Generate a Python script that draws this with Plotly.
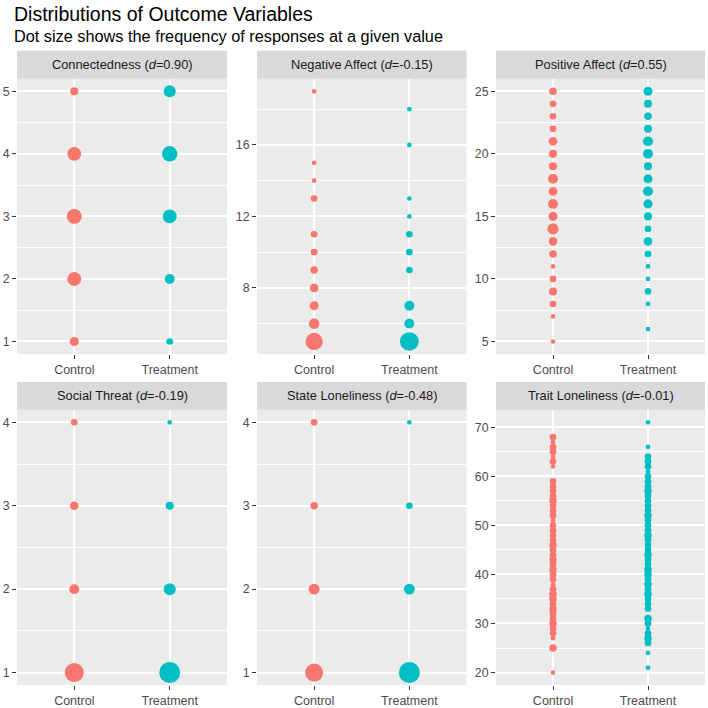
import plotly.graph_objects as go
import numpy as np

# ---------------- data ----------------
groups = ["Control", "Treatment"]

conn_vals_c = [1, 2, 3, 4, 5]
conn_n_c = [6, 23, 28, 23, 4]
conn_vals_t = [1, 2, 3, 4, 5]
conn_n_t = [2, 8, 23, 31, 15]

neg_vals_c = [5, 6, 7, 8, 9, 10, 11, 13, 14, 15, 19]
neg_n_c = [42, 10, 6, 5, 3, 2, 2, 2, 1, 1, 1]
neg_vals_t = [5, 6, 7, 9, 10, 11, 12, 13, 16, 18]
neg_n_t = [52, 8, 8, 2, 2, 2, 1, 1, 1, 1]

pos_vals_c = [5, 7, 8, 9, 10, 11, 12, 13, 14, 15, 16, 17, 18, 19, 20, 21, 22, 23, 24, 25]
pos_n_c = [1, 1, 2, 4, 2, 1, 3, 5, 12, 6, 8, 5, 8, 4, 4, 5, 2, 2, 2, 3]
pos_vals_t = [6, 8, 9, 10, 11, 12, 13, 14, 15, 16, 17, 18, 19, 20, 21, 22, 23, 24, 25]
pos_n_t = [1, 1, 2, 1, 1, 2, 5, 2, 4, 6, 8, 6, 4, 8, 8, 4, 3, 4, 6]

soc_vals_c = [1, 2, 3, 4]
soc_n_c = [54, 8, 5, 2]
soc_vals_t = [1, 2, 3, 4]
soc_n_t = [70, 15, 4, 1]

state_vals_c = [1, 2, 3, 4]
state_n_c = [47, 11, 3, 2]
state_vals_t = [1, 2, 3, 4]
state_n_t = [70, 11, 2, 1]

trait_vals_c = [20, 25, 27, 28, 29, 30, 31, 32, 33, 34, 35, 36, 37, 38, 39, 40, 41, 42, 43,
                44, 45, 46, 47, 48, 49, 50, 51, 52, 53, 54, 55, 56, 57, 58, 59,
                62, 63, 64, 65, 66, 67, 68]
trait_n_c = [1, 3, 1, 2, 2, 3, 2, 2, 3, 2, 3, 3, 2, 1, 2, 2, 3, 2, 3,
             2, 2, 3, 2, 2, 2, 2, 1, 2, 2, 2, 3, 2, 2, 2, 2,
             1, 2, 1, 2, 2, 1, 2]
trait_vals_t = [21, 24, 26, 27, 28, 29, 30, 31, 33, 34, 35, 36, 37, 38, 39, 40, 41, 42, 43,
                44, 45, 46, 47, 48, 49, 50, 51, 52, 53, 54, 55, 56, 57, 58, 59, 60,
                61, 62, 63, 64, 66, 71]
trait_n_t = [1, 1, 2, 3, 2, 1, 2, 3, 2, 2, 2, 3, 2, 3, 2, 3, 3, 2, 2,
             3, 2, 2, 2, 3, 2, 2, 2, 3, 2, 2, 2, 2, 3, 2, 2, 2,
             1, 2, 2, 2, 1, 1]

panel_names = ["Connectedness", "Negative Affect", "Positive Affect",
               "Social Threat", "State Loneliness", "Trait Loneliness"]
panel_d = ["0.90", "-0.15", "0.55", "-0.19", "-0.48", "-0.01"]

panel_data = [
    (conn_vals_c, conn_n_c, conn_vals_t, conn_n_t),
    (neg_vals_c, neg_n_c, neg_vals_t, neg_n_t),
    (pos_vals_c, pos_n_c, pos_vals_t, pos_n_t),
    (soc_vals_c, soc_n_c, soc_vals_t, soc_n_t),
    (state_vals_c, state_n_c, state_vals_t, state_n_t),
    (trait_vals_c, trait_n_c, trait_vals_t, trait_n_t),
]

# axis tick settings (tick0, dtick, minor dtick)
panel_ticks = [(1, 1, 0.5), (0, 4, 2), (0, 5, 2.5), (1, 1, 0.5), (1, 1, 0.5), (0, 10, 5)]

# ---------------- styling ----------------
W = H = 708
colors = ["#F8766D", "#00BFC4"]
FONT = "Liberation Sans, Arial, sans-serif"

all_counts = [n for p in panel_data for n in (p[1] + p[3])]
NMIN, NMAX = min(all_counts), max(all_counts)


def dot_size(counts):
    c = np.array(counts, dtype=float)
    return 4.7 + 16.3 * np.sqrt((c - NMIN) / (NMAX - NMIN))


def fx(px):
    return px / W


def fy(py):
    return 1 - py / H


col_px = [(17, 227), (257, 466.5), (496, 705)]
row_px = [(79, 355), (411, 687)]
strip_top = [51, 383]

fig = go.Figure()
layout = dict(
    width=W, height=H, autosize=False,
    margin=dict(l=0, r=0, t=0, b=0),
    paper_bgcolor="white", plot_bgcolor="#EBEBEB",
    showlegend=False,
    font=dict(family=FONT, color="#4D4D4D"),
    shapes=[], annotations=[],
)

for i in range(6):
    r, c = divmod(i, 3)
    k = "" if i == 0 else str(i + 1)
    xl, xr = col_px[c]
    yt, yb = row_px[r]
    vals_c, n_c, vals_t, n_t = panel_data[i]
    for g, (vals, ns) in enumerate([(vals_c, n_c), (vals_t, n_t)]):
        fig.add_trace(go.Scatter(
            x=[groups[g]] * len(vals), y=vals, mode="markers",
            marker=dict(size=dot_size(ns), color=colors[g], opacity=1,
                        line=dict(width=0)),
            xaxis="x" + k, yaxis="y" + k, hoverinfo="x+y",
        ))
    allv = vals_c + vals_t
    lo, hi = min(allv), max(allv)
    pad = (hi - lo) * 0.05
    t0, dt, mdt = panel_ticks[i]
    layout["xaxis" + k] = dict(
        domain=[fx(xl), fx(xr)], anchor="y" + k, type="category",
        categoryorder="array", categoryarray=groups, range=[-0.6, 1.6],
        showgrid=True, gridcolor="white", gridwidth=1.6, zeroline=False,
        showline=False, ticks="outside", ticklen=4, tickwidth=1,
        tickcolor="#333333", tickfont=dict(size=12.5, color="#4D4D4D", family=FONT),
        fixedrange=True,
    )
    layout["yaxis" + k] = dict(
        domain=[fy(yb), fy(yt)], anchor="x" + k, range=[lo - pad, hi + pad],
        tickmode="linear", tick0=t0, dtick=dt,
        showgrid=True, gridcolor="white", gridwidth=1.6, zeroline=False,
        showline=False, ticks="outside", ticklen=4, tickwidth=1,
        tickcolor="#333333", tickfont=dict(size=12.3, color="#4D4D4D", family=FONT),
        minor=dict(tick0=t0, dtick=mdt, showgrid=True, gridcolor="white",
                   gridwidth=0.8, ticks=""),
        fixedrange=True,
    )
    st = strip_top[r]
    layout["shapes"].append(dict(
        type="rect", xref="paper", yref="paper",
        x0=fx(xl), x1=fx(xr), y0=fy(yt), y1=fy(st),
        fillcolor="#D9D9D9", line=dict(width=0), layer="below",
    ))
    layout["annotations"].append(dict(
        xref="paper", yref="paper", x=fx((xl + xr) / 2), y=fy((st + yt) / 2),
        xanchor="center", yanchor="middle", showarrow=False,
        text=f"{panel_names[i]} (<i>d</i>={panel_d[i]})",
        font=dict(size=12.8, color="#1A1A1A", family=FONT),
    ))

layout["annotations"].append(dict(
    xref="paper", yref="paper", x=fx(12), y=fy(14), xanchor="left", yanchor="middle",
    showarrow=False, text="Distributions of Outcome Variables",
    font=dict(size=19.5, color="#000000", family=FONT),
))
layout["annotations"].append(dict(
    xref="paper", yref="paper", x=fx(12), y=fy(36), xanchor="left", yanchor="middle",
    showarrow=False, text="Dot size shows the frequency of responses at a given value",
    font=dict(size=16.3, color="#000000", family=FONT),
))

fig.update_layout(**layout)
fig.write_html(
    "out.html",
    config={"displayModeBar": False},
    post_script="document.body.style.margin='0';document.body.style.overflow='hidden';",
)
